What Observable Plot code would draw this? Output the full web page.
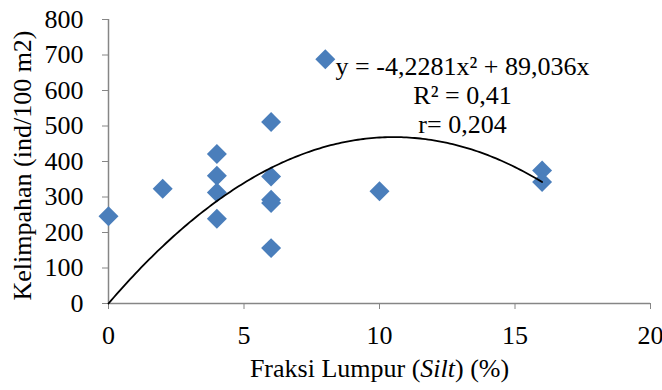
<!DOCTYPE html>
<html>
<head>
<meta charset="utf-8">
<script src="https://cdn.jsdelivr.net/npm/d3@7"></script>
<script src="https://cdn.jsdelivr.net/npm/@observablehq/plot@0.6"></script>
<style>
  html, body { margin: 0; padding: 0; background: #fff; }
  #chart svg, #chart svg text { font-family: "Liberation Serif", "Times New Roman", serif !important; font-size: 26px !important; }
</style>
</head>
<body>
<div id="chart"></div>
<script>
// Observed data: silt fraction (%) vs abundance (ind/100 m2)
const silt = [0, 2, 4, 4, 4, 4, 6, 6, 6, 6, 6, 8, 10, 16, 16];
const kelimpahan = [246, 323, 421, 360, 313, 239, 511, 358, 292, 283, 156, 688, 316, 375, 342];
// Polynomial trendline coefficients (y = a x^2 + b x)
const coefA = -4.2281;
const coefB = 89.036;
const trendRange = [0, 16];
// Axis ticks and texts
const xTicks = [0, 5, 10, 15, 20];
const yTicks = [0, 100, 200, 300, 400, 500, 600, 700, 800];
const xTitle = "Fraksi Lumpur (Silt) (%)";
const yTitle = "Kelimpahan (ind/100 m2)";
const annotation = "y = -4,2281x\u00b2 + 89,036x\nR\u00b2 = 0,41\nr= 0,204";

const points = silt.map((s, i) => ({x: s, y: kelimpahan[i]}));
const curve = d3.range(trendRange[0], trendRange[1] + 1e-9, 0.1).map(x => ({x, y: coefA * x * x + coefB * x}));

const axisColor = "#868686";
const plot = Plot.plot({
  width: 662, height: 390,
  marginLeft: 108, marginRight: 12, marginTop: 19, marginBottom: 87,
  style: {background: "#fff", color: "#000"},
  x: {domain: [0, 20]},
  y: {domain: [0, 800]},
  marks: [
    Plot.axisX({ticks: xTicks, tickSize: 6, tickPadding: 16, stroke: axisColor, fill: "#000",
      label: xTitle, labelAnchor: "center", labelArrow: "none", labelOffset: 73}),
    Plot.axisY({ticks: yTicks, tickSize: 6, tickPadding: 19, stroke: axisColor, fill: "#000", label: null}),
    Plot.text([yTitle], {frameAnchor: "left", text: d => d, rotate: -90, textAnchor: "middle",
      lineAnchor: "top", dx: -96, dy: 4, fill: "#000"}),
    Plot.ruleY([0], {stroke: axisColor, strokeWidth: 1.5}),
    Plot.ruleX([0], {stroke: axisColor, strokeWidth: 1.5}),
    Plot.dot(points, {x: "x", y: "y", symbol: "diamond2", r: 9, fill: "#4a7ebb", stroke: "none"}),
    Plot.line(curve, {x: "x", y: "y", stroke: "#000", strokeWidth: 1.8}),
    Plot.text([annotation], {frameAnchor: "top-right", text: d => d, textAnchor: "middle",
      dx: -188, dy: 34.5, lineHeight: 1.115, fill: "#000"})
  ]
});
document.getElementById("chart").appendChild(plot);

// Italicize "Silt" in the x-axis title (keeps real text)
d3.select(plot).selectAll("text").each(function() {
  const t = d3.select(this);
  if (t.text() === xTitle) {
    const parts = xTitle.split("Silt");
    t.text(null);
    t.append("tspan").text(parts[0]);
    t.append("tspan").attr("font-style", "italic").text("Silt");
    t.append("tspan").text(parts[1]);
  }
});
</script>
</body>
</html>
